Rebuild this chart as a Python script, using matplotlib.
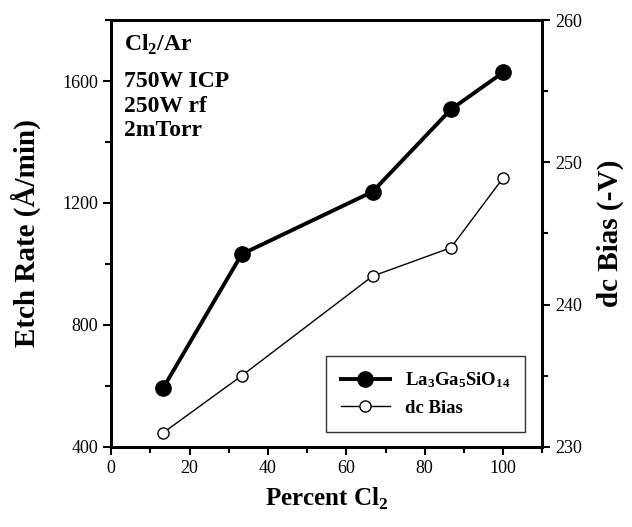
import numpy as np
import matplotlib
matplotlib.use("Agg")
import matplotlib.pyplot as plt
from matplotlib.ticker import MultipleLocator

plt.rcParams['font.family'] = ['Liberation Serif', 'DejaVu Serif']
plt.rcParams['mathtext.fontset'] = 'custom'
plt.rcParams['mathtext.rm'] = 'Liberation Serif:bold'
plt.rcParams['mathtext.bf'] = 'Liberation Serif:bold'

percent_cl2 = [13.3, 33.3, 66.7, 86.7, 100]
etch_rate = [594, 1032, 1237, 1507, 1628]
dc_bias = [231.0, 235.0, 242.0, 244.0, 248.9]

fig = plt.figure(figsize=(6.32, 5.27), dpi=100)
ax = fig.add_axes([0.176, 0.152, 0.682, 0.810])
ax2 = ax.twinx()

l1, = ax.plot(percent_cl2, etch_rate, '-o', color='black', lw=2.8,
              ms=11, label=r'$\mathregular{La_3Ga_5SiO_{14}}$')
l2, = ax2.plot(percent_cl2, dc_bias, '-o', color='black', lw=1,
               ms=8, mfc='white', mew=1, label='dc Bias')

ax.set_xlim(0, 110)
ax.set_ylim(400, 1800)
ax2.set_ylim(230, 260)

ax.xaxis.set_major_locator(MultipleLocator(20))
ax.xaxis.set_minor_locator(MultipleLocator(10))
ax.yaxis.set_major_locator(MultipleLocator(400))
ax.yaxis.set_minor_locator(MultipleLocator(200))
ax2.yaxis.set_major_locator(MultipleLocator(10))
ax2.yaxis.set_minor_locator(MultipleLocator(5))

for a in (ax, ax2):
    a.tick_params(which='major', direction='out', length=6, width=1.5, labelsize=13)
    a.tick_params(which='minor', direction='out', length=4, width=1.5)
    for s in a.spines.values():
        s.set_linewidth(2)

ax.set_xlabel(r'Percent Cl$_2$', fontsize=18, fontweight='bold', labelpad=6)
ax.set_ylabel('Etch Rate (Å/min)', fontsize=21, fontweight='bold', labelpad=15)
ax2.set_ylabel('dc Bias (-V)', fontsize=21, fontweight='bold', labelpad=10)

ax.text(0.03, 0.941, r'Cl$_2$/Ar', transform=ax.transAxes, fontsize=17,
        fontweight='bold', va='center')
for i, t in enumerate(['750W ICP', '250W rf', '2mTorr']):
    ax.text(0.03, 0.855 - i * 0.057, t, transform=ax.transAxes, fontsize=17,
            fontweight='bold', va='center')

leg = ax.legend([l1, l2], [l1.get_label(), l2.get_label()], loc='lower right',
                bbox_to_anchor=(0.96, 0.035), borderaxespad=0, fancybox=False,
                edgecolor='black', prop={'weight': 'bold', 'size': 13.5},
                handlelength=2.6, borderpad=0.8, labelspacing=0.5)
leg.get_frame().set_linewidth(1)

fig.savefig('out.png', dpi=100)
